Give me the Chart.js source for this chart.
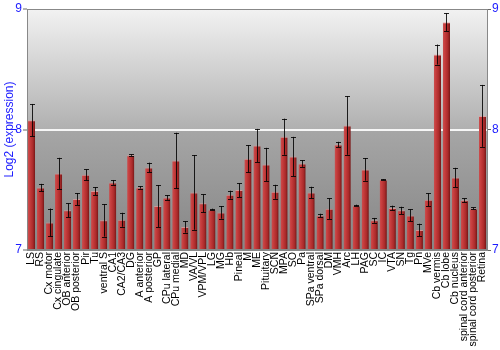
<!DOCTYPE html>
<html>
<head>
<meta charset="utf-8">
<script src="https://cdn.jsdelivr.net/npm/chart.js@4"></script>
<style>
html,body{margin:0;padding:0;background:#fff;}
canvas{display:block;}
</style>
</head>
<body>
<canvas id="c" width="500" height="350"></canvas>
<script>
const categories = ["LS","RS","Cx motor","Cx cingulate","OB anterior","OB posterior","Pir","Tu","ventral S","CA1","CA2/CA3","DG","A anterior","A posterior","GP","CPu lateral","CPu medial","MD","VA/VL","VPM/VPL","LG","MG","Hb","Pineal","M","ME","Pituitary","SCN","MPA","SO","Pa","SPa ventral","SPa dorsal","DM","VMH","Arc","LH","PAG","SC","IC","VTA","SN","Tg","Pn","MVe","Cb vermis","Cb lobe","Cb nucleus","spinal cord anterior","spinal cord posterior","Retina"];
const values = [8.077,7.519,7.229,7.635,7.329,7.423,7.624,7.489,7.246,7.561,7.251,7.787,7.519,7.685,7.365,7.436,7.743,7.191,7.478,7.387,7.337,7.312,7.459,7.497,7.757,7.867,7.710,7.483,7.940,7.776,7.718,7.478,7.287,7.343,7.876,8.033,7.370,7.669,7.246,7.586,7.348,7.329,7.287,7.166,7.417,8.622,8.890,7.602,7.412,7.345,8.113];
const errors = [0.135,0.030,0.115,0.130,0.058,0.050,0.045,0.033,0.135,0.020,0.058,0.006,0.010,0.040,0.174,0.020,0.230,0.047,0.310,0.075,0.006,0.052,0.033,0.058,0.113,0.138,0.138,0.058,0.150,0.163,0.028,0.047,0.014,0.085,0.022,0.243,0.006,0.094,0.020,0.003,0.020,0.030,0.050,0.052,0.053,0.083,0.074,0.080,0.016,0.008,0.257];
const yTicks = [7, 8, 9];
const yMin = 7, yMax = 9;
const yTitle = "Log2 (expression)";
const blue = "#1c1cff";
const FONT = "'Liberation Sans', Arial, sans-serif";

const bgPlugin = {
  id: 'bg',
  beforeDraw(chart) {
    const {ctx, chartArea: a, scales} = chart;
    const y8 = scales.y.getPixelForValue(8);
    ctx.save();
    let g = ctx.createLinearGradient(0, a.top, 0, y8);
    g.addColorStop(0, '#f2f2f2');
    g.addColorStop(1, '#b0b0b0');
    ctx.fillStyle = g;
    ctx.fillRect(a.left, a.top, a.right - a.left, y8 - a.top);
    g = ctx.createLinearGradient(0, y8, 0, a.bottom);
    g.addColorStop(0, '#a6a6a6');
    g.addColorStop(1, '#868686');
    ctx.fillStyle = g;
    ctx.fillRect(a.left, y8, a.right - a.left, a.bottom - y8);
    ctx.restore();
  },
  afterDraw(chart) {
    const {ctx, chartArea: a} = chart;
    ctx.save();
    ctx.strokeStyle = '#888';
    ctx.lineWidth = 1;
    ctx.beginPath();
    ctx.moveTo(a.left, a.top + 0.5);
    ctx.lineTo(a.right, a.top + 0.5);
    ctx.stroke();
    ctx.restore();
  }
};

const errPlugin = {
  id: 'err',
  afterDatasetsDraw(chart) {
    const {ctx, scales} = chart;
    const meta = chart.getDatasetMeta(0);
    ctx.save();
    ctx.strokeStyle = 'rgba(0,0,0,0.85)';
    ctx.lineWidth = 1;
    meta.data.forEach((bar, i) => {
      const x = Math.round(bar.x) + 0.5;
      const yt = scales.y.getPixelForValue(values[i] + errors[i]);
      const yb = scales.y.getPixelForValue(values[i] - errors[i]);
      ctx.beginPath();
      ctx.moveTo(x, yt); ctx.lineTo(x, yb);
      ctx.moveTo(x - 2.5, Math.round(yt) + 0.5); ctx.lineTo(x + 2.5, Math.round(yt) + 0.5);
      ctx.moveTo(x - 2.5, Math.round(yb) + 0.5); ctx.lineTo(x + 2.5, Math.round(yb) + 0.5);
      ctx.stroke();
    });
    ctx.restore();
  }
};

function barFill(c) {
  const chart = c.chart;
  const xs = chart.scales && chart.scales.x;
  if (!xs || c.dataIndex === undefined || !xs.width) return '#b03030';
  const cx = xs.getPixelForValue(c.dataIndex);
  const w = (xs.width / categories.length) * 0.8;
  const g = chart.ctx.createLinearGradient(cx - w / 2, 0, cx + w / 2, 0);
  g.addColorStop(0, '#c85050');
  g.addColorStop(0.25, '#c83e3e');
  g.addColorStop(0.7, '#aa2a2a');
  g.addColorStop(1, '#741616');
  return g;
}

new Chart(document.getElementById('c'), {
  type: 'bar',
  data: {
    labels: categories,
    datasets: [{
      data: values,
      backgroundColor: barFill,
      borderColor: 'rgba(235,150,150,0.7)',
      borderWidth: {top: 1, left: 0, right: 0, bottom: 0},
      borderSkipped: false,
      barPercentage: 0.8,
      categoryPercentage: 1,
      base: yMin
    }]
  },
  options: {
    responsive: false,
    devicePixelRatio: 1,
    animation: false,
    layout: {padding: {top: 9, left: 0, right: 0, bottom: 0}},
    plugins: {legend: {display: false}, tooltip: {enabled: false}},
    scales: {
      x: {
        ticks: {autoSkip: false, minRotation: 90, maxRotation: 90, color: '#000', padding: 2,
          font: {family: FONT, size: 10.5}},
        grid: {display: false, drawTicks: false},
        border: {color: '#888'},
        afterFit: s => { s.height = 100; }
      },
      y: {
        min: yMin, max: yMax,
        afterBuildTicks: s => { s.ticks = yTicks.map(v => ({value: v})); },
        ticks: {color: blue, padding: 1, font: {family: FONT, size: 12}},
        grid: {color: c => (c.tick && c.tick.value === 8) ? '#f6f6f6' : 'rgba(0,0,0,0)', lineWidth: 2,
          tickColor: '#666', tickLength: 4, tickWidth: 1},
        border: {color: '#888'},
        title: {display: true, text: yTitle, color: blue, font: {family: FONT, size: 12}, padding: {top: 2, bottom: 0}},
        afterFit: s => { s.width = 27; }
      },
      y2: {
        position: 'right',
        min: yMin, max: yMax,
        afterBuildTicks: s => { s.ticks = yTicks.map(v => ({value: v})); },
        ticks: {color: blue, padding: 1, font: {family: FONT, size: 12}},
        grid: {drawOnChartArea: false, tickColor: '#666', tickLength: 4},
        border: {color: '#888'},
        afterFit: s => { s.width = 13; }
      }
    }
  },
  plugins: [bgPlugin, errPlugin]
});
</script>
</body>
</html>
